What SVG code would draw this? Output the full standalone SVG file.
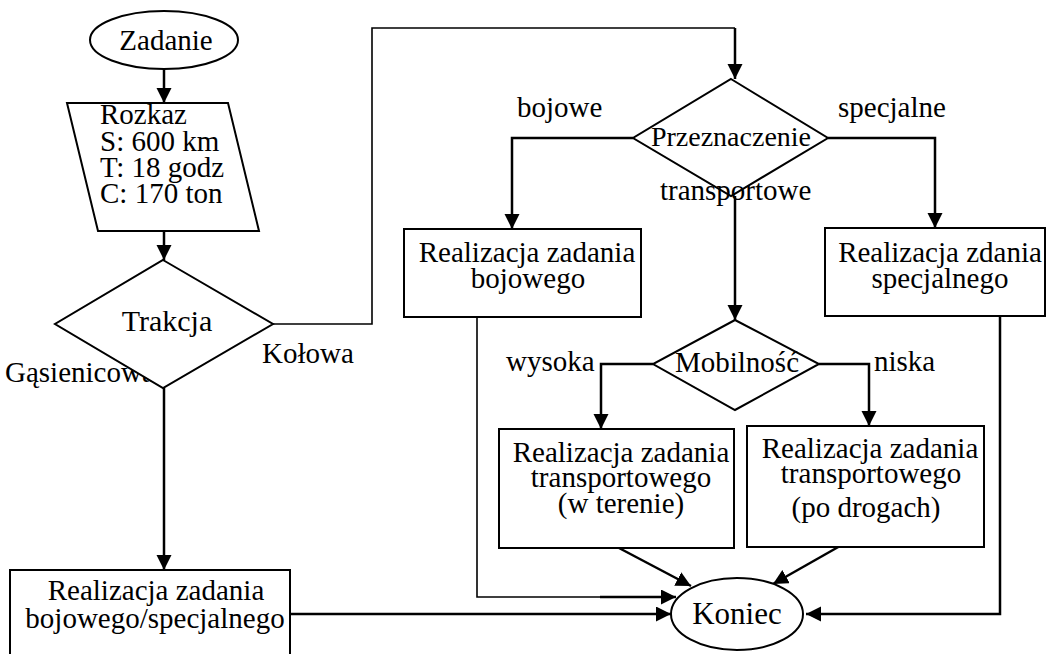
<svg xmlns="http://www.w3.org/2000/svg" width="1047" height="654" viewBox="0 0 1047 654">
<defs>
<marker id="ah" markerUnits="userSpaceOnUse" markerWidth="16" markerHeight="16" refX="15" refY="7.5" orient="auto">
<path d="M0,0 L15,7.5 L0,15 z" fill="#000"/>
</marker>
<style>
.s{fill:#fff;stroke:#000;stroke-width:2}
.t{font-family:"Liberation Serif","Times New Roman",serif;font-size:29px;fill:#000}
.c{text-anchor:middle}
.k{fill:none;stroke:#000;stroke-width:2.5}
.kt{fill:none;stroke:#000;stroke-width:1.6}
</style>
</defs>
<rect width="1047" height="654" fill="#fff"/>
<text class="t" x="5" y="382">Gąsienicowa</text>
<g id="connectors">
<path class="k" d="M164,69 V103" marker-end="url(#ah)"/>
<path class="k" d="M164,231 V260" marker-end="url(#ah)"/>
<path class="kt" d="M273,324 H372 V28 H735"/>
<path class="k" d="M735,28 V79" marker-end="url(#ah)"/>
<path class="k" d="M164,388 V570" marker-end="url(#ah)"/>
<path class="k" d="M633,138 H512 V229" marker-end="url(#ah)"/>
<path class="k" d="M828,138 H935 V228" marker-end="url(#ah)"/>
<path class="k" d="M735,196 V320" marker-end="url(#ah)"/>
<path class="k" d="M653,364 H601 V429" marker-end="url(#ah)"/>
<path class="k" d="M819,364 H869 V426" marker-end="url(#ah)"/>
<path class="kt" d="M477,317 V597 H600"/>
<path class="k" d="M600,597 H676" marker-end="url(#ah)"/>
<path class="k" d="M1000,316 V614 H806" marker-end="url(#ah)"/>
<path class="k" d="M290,614 H671" marker-end="url(#ah)"/>
<path class="k" d="M619,548 L691,586" marker-end="url(#ah)"/>
<path class="k" d="M840,546 L773,584" marker-end="url(#ah)"/>
</g>
<g id="zadanie">
<ellipse class="s" cx="164" cy="40" rx="74" ry="29"/>
<text class="t c" x="166" y="50">Zadanie</text>
</g>
<g id="rozkaz">
<polygon class="s" points="67,103 228,103 259,231 98,231"/>
<text class="t" x="100" y="124">Rozkaz</text>
<text class="t" x="100" y="151">S: 600 km</text>
<text class="t" x="100" y="177">T: 18 godz</text>
<text class="t" x="100" y="203">C: 170 ton</text>
</g>
<g id="trakcja">
<polygon class="s" points="163,260 273,324 163,388 55,324"/>
<text class="t c" x="167" y="331" style="font-size:30px">Trakcja</text>
</g>
<text class="t" x="262" y="363">Kołowa</text>
<g id="przeznaczenie">
<polygon class="s" points="731,79 828,138 731,196 633,138"/>
<text class="t c" x="731" y="146" style="font-size:28px">Przeznaczenie</text>
</g>
<text class="t" x="517" y="117">bojowe</text>
<text class="t" x="838" y="117">specjalne</text>
<text class="t" x="660" y="200">transportowe</text>
<g id="bojowy">
<rect class="s" x="404" y="229" width="237" height="88"/>
<text class="t c" x="527" y="262">Realizacja zadania</text>
<text class="t c" x="528" y="288">bojowego</text>
</g>
<g id="specjalny">
<rect class="s" x="825" y="228" width="220" height="88"/>
<text class="t c" x="940" y="262">Realizacja zdania</text>
<text class="t c" x="940" y="288">specjalnego</text>
</g>
<g id="mobilnosc">
<polygon class="s" points="735,320 819,364 735,410 653,364"/>
<text class="t c" x="737" y="372">Mobilność</text>
</g>
<text class="t" x="506" y="371">wysoka</text>
<text class="t" x="874" y="371">niska</text>
<g id="teren">
<rect class="s" x="499" y="429" width="235" height="119"/>
<text class="t c" x="621" y="462">Realizacja zadania</text>
<text class="t c" x="621" y="487">transportowego</text>
<text class="t c" x="621" y="513">(w terenie)</text>
</g>
<g id="drogi">
<rect class="s" x="747" y="426" width="237" height="121"/>
<text class="t c" x="870" y="458">Realizacja zadania</text>
<text class="t c" x="871" y="483">transportowego</text>
<text class="t c" x="866" y="517">(po drogach)</text>
</g>
<g id="bojspec">
<rect class="s" x="10" y="570" width="280" height="100"/>
<text class="t c" x="156" y="600">Realizacja zadania</text>
<text class="t c" x="155" y="628">bojowego/specjalnego</text>
</g>
<g id="koniec">
<ellipse class="s" cx="737" cy="614" rx="66" ry="36"/>
<text class="t c" x="737" y="624" style="font-size:31px">Koniec</text>
</g>
</svg>
